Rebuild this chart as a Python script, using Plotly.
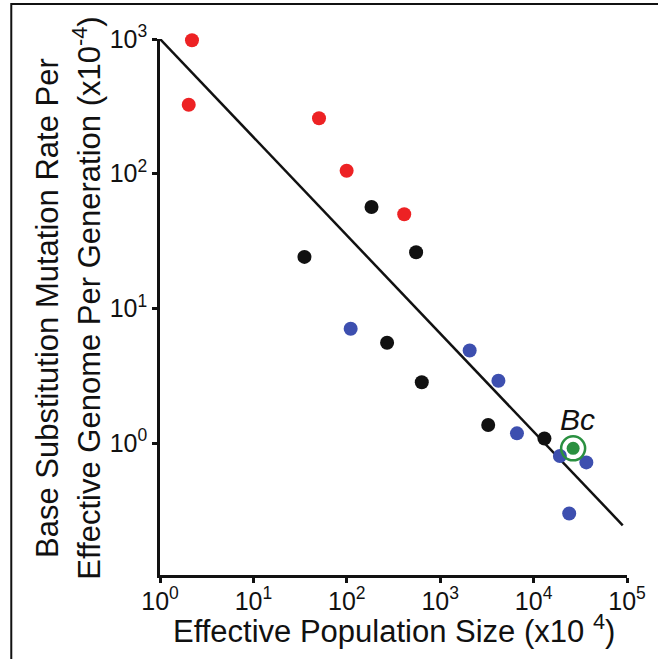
import plotly.graph_objects as go

# Data (effective population size x10^4, mutation rate x10^-4)
red_x = [2.2, 2.03, 50.4, 99.6, 412]
red_y = [980, 325, 258, 105, 50]

black_x = [184, 35.2, 552, 270, 635, 3266, 13060]
black_y = [56.5, 24.1, 26.1, 5.55, 2.83, 1.36, 1.08]

blue_x = [110, 2068, 4200, 6635, 19130, 36700, 24050]
blue_y = [7.06, 4.87, 2.90, 1.18, 0.80, 0.718, 0.30]

bc_x = [26500]
bc_y = [0.913]
bc_label = "Bc"

line_x = [1, 90000]
line_y = [1000, 0.245]

tick_vals_x = [1, 10, 100, 1000, 10000, 100000]
tick_text_x = ["10<sup>0</sup>", "10<sup>1</sup>", "10<sup>2</sup>", "10<sup>3</sup>", "10<sup>4</sup>", "10<sup>5</sup>"]
tick_vals_y = [1, 10, 100, 1000]
tick_text_y = ["10<sup>0</sup>", "10<sup>1</sup>", "10<sup>2</sup>", "10<sup>3</sup>"]

x_title = "Effective Population Size (x10 <sup>4</sup>)"
y_title_1 = "Base Substitution Mutation Rate Per"
y_title_2 = "Effective Genome Per Generation (x10<sup>-4</sup>)"

FONT = "Liberation Sans, Arial, sans-serif"
INK = "#111111"

fig = go.Figure()
fig.add_trace(go.Scatter(x=line_x, y=line_y, mode="lines", cliponaxis=False,
                         line=dict(color=INK, width=2.5), hoverinfo="skip"))
fig.add_trace(go.Scatter(x=red_x, y=red_y, mode="markers", cliponaxis=False,
                         marker=dict(color="#ED2224", size=14)))
fig.add_trace(go.Scatter(x=black_x, y=black_y, mode="markers", cliponaxis=False,
                         marker=dict(color=INK, size=14)))
fig.add_trace(go.Scatter(x=blue_x, y=blue_y, mode="markers", cliponaxis=False,
                         marker=dict(color="#3D4FAF", size=14)))
fig.add_trace(go.Scatter(x=bc_x, y=bc_y, mode="markers", cliponaxis=False,
                         marker=dict(color="#2A9040", size=24, symbol="circle-open",
                                     line=dict(color="#2A9040", width=2.5))))
fig.add_trace(go.Scatter(x=bc_x, y=bc_y, mode="markers", cliponaxis=False,
                         marker=dict(color="#2A9040", size=13)))

W, H = 658, 659
L, R, T, B = 160, 27, 39, 84
pw, ph = W - L - R, H - T - B

def px(xp):
    return (xp - L) / pw

def py(yp):
    return (H - B - yp) / ph

axis_common = dict(showgrid=False, zeroline=False, showline=True, linecolor=INK,
                   linewidth=2.5, ticks="outside", ticklen=5, tickwidth=2.5,
                   tickcolor=INK, tickfont=dict(family=FONT, size=25, color=INK))

fig.update_layout(
    width=W, height=H,
    margin=dict(l=L, r=R, t=T, b=B),
    paper_bgcolor="white", plot_bgcolor="white",
    showlegend=False,
    xaxis=dict(type="log", range=[0, 5], tickvals=tick_vals_x, ticktext=tick_text_x,
               ticklabelstandoff=-3, **axis_common),
    yaxis=dict(type="log", range=[-0.98, 3], tickvals=tick_vals_y, ticktext=tick_text_y,
               **axis_common),
    annotations=[
        dict(text=x_title, xref="paper", yref="paper", x=px(396), y=py(629),
             xanchor="center", yanchor="middle", showarrow=False,
             font=dict(family=FONT, size=31, color=INK)),
        dict(text=y_title_1, xref="paper", yref="paper", x=px(46), y=py(308),
             xanchor="center", yanchor="middle", showarrow=False, textangle=-90,
             font=dict(family=FONT, size=31, color=INK)),
        dict(text=y_title_2, xref="paper", yref="paper", x=px(86), y=py(298),
             xanchor="center", yanchor="middle", showarrow=False, textangle=-90,
             font=dict(family=FONT, size=31, color=INK)),
        dict(text="<i>" + bc_label + "</i>", xref="x", yref="y", x=4.467, y=0.171,
             xanchor="center", yanchor="middle", showarrow=False,
             font=dict(family=FONT, size=30, color=INK)),
    ],
    shapes=[
        dict(type="rect", xref="paper", yref="paper", x0=px(10), x1=px(670),
             y0=py(670), y1=py(4), line=dict(color=INK, width=2),
             fillcolor="rgba(0,0,0,0)", layer="below"),
    ],
)

fig.write_html("out.html")
